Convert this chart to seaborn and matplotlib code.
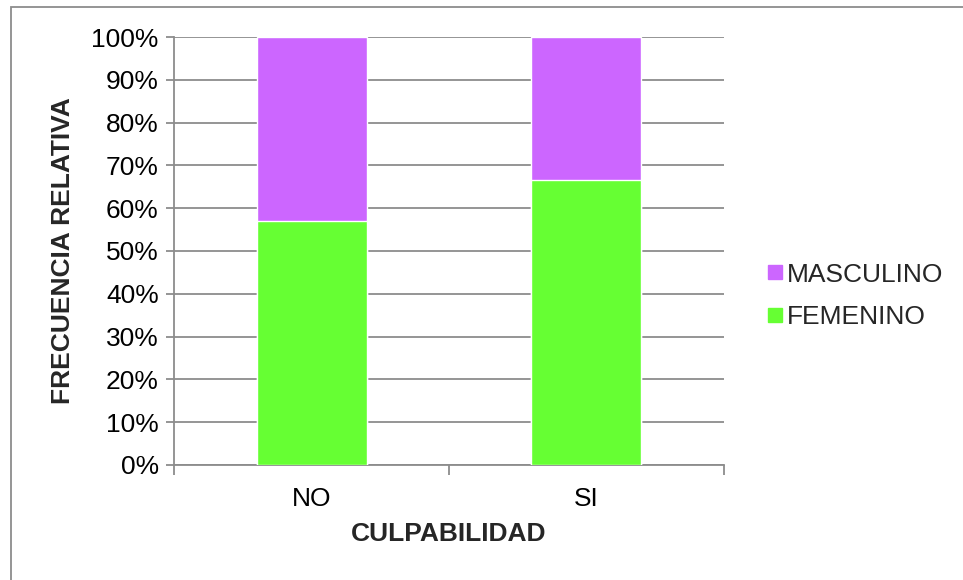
import matplotlib
matplotlib.use('Agg')
import matplotlib.pyplot as plt
import seaborn as sns
import pandas as pd
from matplotlib.lines import Line2D
from matplotlib.patches import Rectangle
from matplotlib.ticker import PercentFormatter, FixedLocator

# data
categories = ['NO', 'SI']
femenino = [57.0, 66.7]
masculino = [43.0, 33.3]

green = '#66FF33'
purple = '#CC66FF'
grey = '#8C8C8C'

sns.set_theme(style='white')
plt.rcParams['font.family'] = ['Liberation Sans', 'DejaVu Sans']

df = pd.DataFrame({'culpabilidad': categories,
                   'femenino': femenino,
                   'total': [f + m for f, m in zip(femenino, masculino)]})

fig = plt.figure(figsize=(9.63, 5.80), dpi=100)
ax = fig.add_axes([0.1807, 0.1983, 0.5711, 0.7379])

# stacked: full bar in purple, green part on top of it
sns.barplot(data=df, x='culpabilidad', y='total', color=purple, width=0.4,
            saturation=1, ax=ax, zorder=3)
sns.barplot(data=df, x='culpabilidad', y='femenino', color=green, width=0.4,
            saturation=1, ax=ax, zorder=3)

ax.set_xlim(-0.5, 1.5)
ax.set_ylim(0, 100)
ax.set_yticks(range(0, 101, 10))
ax.yaxis.set_major_formatter(PercentFormatter(decimals=0))
ax.yaxis.grid(True, color=grey, linewidth=1.3, zorder=0)
ax.set_axisbelow(True)

for s in ['top', 'right']:
    ax.spines[s].set_visible(False)
for s in ['left', 'bottom']:
    ax.spines[s].set_color(grey)
    ax.spines[s].set_linewidth(1.3)

ax.tick_params(axis='y', which='major', left=True, length=6, width=1.3,
               color=grey, labelsize=19, pad=5, labelcolor='black')
ax.tick_params(axis='x', which='major', bottom=False, labelsize=19, pad=10,
               labelcolor='black')
ax.xaxis.set_minor_locator(FixedLocator([-0.5, 0.5, 1.5]))
ax.tick_params(axis='x', which='minor', bottom=True, length=7, width=1.3,
               color=grey)

ax.set_xlabel('CULPABILIDAD', fontsize=19, fontweight='bold', labelpad=8)
ax.set_ylabel('FRECUENCIA RELATIVA', fontsize=19, fontweight='bold', labelpad=12)

handles = [Line2D([], [], marker='s', linestyle='none', markersize=10,
                  markerfacecolor=purple, markeredgecolor=purple),
           Line2D([], [], marker='s', linestyle='none', markersize=10,
                  markerfacecolor=green, markeredgecolor=green)]
fig.legend(handles, ['MASCULINO', 'FEMENINO'], loc='center left',
           bbox_to_anchor=(0.772, 0.49), frameon=False, fontsize=19,
           handlelength=0.6, handletextpad=0.15, labelspacing=0.7)

# chart area border (top and left edges visible)
fig.add_artist(Rectangle((11 / 963, -0.05), 1.0, 1.05 - 7 / 580,
                         transform=fig.transFigure, fill=False,
                         edgecolor=grey, linewidth=1.3))

fig.savefig('out.png', dpi=100)
